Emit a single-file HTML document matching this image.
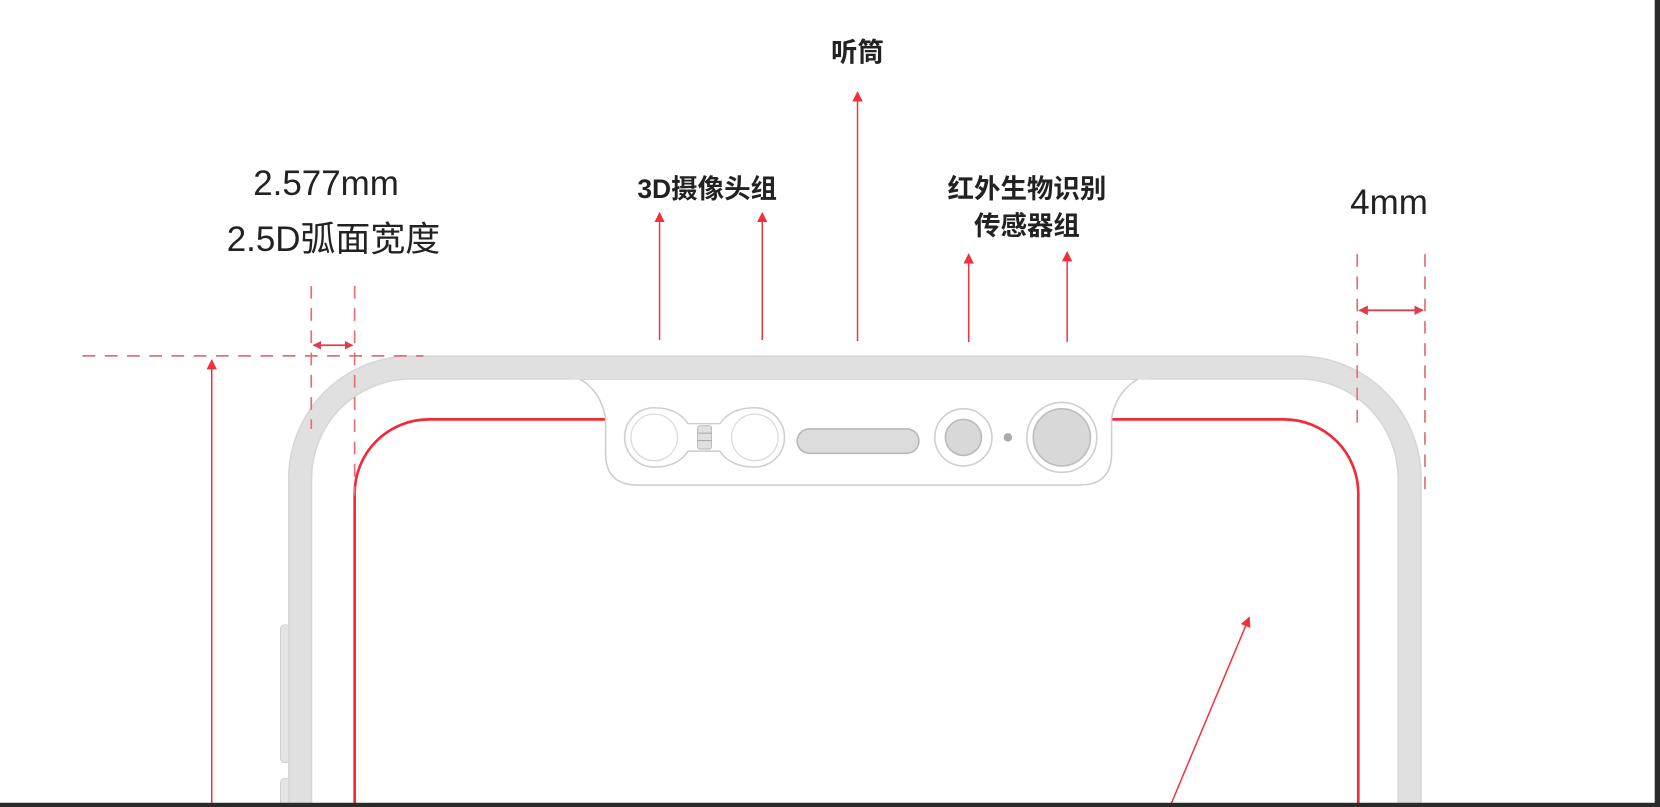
<!DOCTYPE html>
<html><head><meta charset="utf-8"><style>
html,body{margin:0;padding:0;background:#fff;width:1660px;height:807px;overflow:hidden}
svg{display:block}
text{font-family:"Liberation Sans","Noto Sans CJK SC",sans-serif;fill:#222}
</style></head><body>
<svg width="1660" height="807" viewBox="0 0 1568 762" preserveAspectRatio="none" xmlns="http://www.w3.org/2000/svg">
<defs>
<marker id="ah" viewBox="0 0 10 10" refX="9" refY="5" markerWidth="7" markerHeight="7" orient="auto-start-reverse"><path d="M0 0 L10 5 L0 10 z" fill="#f0303a"/></marker>
<marker id="ad" viewBox="0 0 10 10" refX="9" refY="5" markerWidth="5" markerHeight="5" orient="auto-start-reverse"><path d="M0 0 L10 5 L0 10 z" fill="#d9404a"/></marker>
</defs>
<rect width="1568" height="762" fill="#fff"/>
<rect x="265" y="590" width="9" height="130" rx="4" fill="#e4e4e4" stroke="#d0d0d0"/>
<rect x="265" y="735" width="9" height="30" rx="4" fill="#e4e4e4" stroke="#d0d0d0"/>
<path d="M283.5 770 L283.5 452 A105 105 0 0 1 388.5 347 L1226.5 347 A105 105 0 0 1 1331.5 452 L1331.5 770" fill="none" stroke="#d6d6d6" stroke-width="23"/>
<path d="M283.5 770 L283.5 452 A105 105 0 0 1 388.5 347 L1226.5 347 A105 105 0 0 1 1331.5 452 L1331.5 770" fill="none" stroke="#e0e0e0" stroke-width="20"/>
<path d="M572 396 L405 396 A70 70 0 0 0 335 466 L335 770" fill="none" stroke="#f22a36" stroke-width="2.5"/>
<path d="M1050 396 L1213 396 A70 70 0 0 1 1283 466 L1283 770" fill="none" stroke="#f22a36" stroke-width="2.5"/>
<path d="M548 358 Q568 370 572 395 L572 428 Q572 458 602 458 L1020 458 Q1050 458 1050 428 L1050 395 Q1054 370 1075 358 Z" fill="#fff" stroke="#cfcfcf" stroke-width="1.5"/>
<rect x="540" y="352" width="545" height="6" fill="#e0e0e0"/>
<path d="M618 385 Q640 385 650 400 L680 400 Q690 385 713 385 A28 28 0 0 1 713 441 Q690 441 680 426 L650 426 Q640 441 618 441 A28 28 0 0 1 618 385 Z" fill="#fff" stroke="#cfcfcf" stroke-width="1.5"/>
<circle cx="618" cy="413" r="22" fill="#fff" stroke="#dadada" stroke-width="1.2"/>
<circle cx="713" cy="413" r="22" fill="#fff" stroke="#dadada" stroke-width="1.2"/>
<rect x="659" y="402" width="13" height="22" rx="2" fill="#e0e0e0" stroke="#bbb"/>
<line x1="659" y1="409" x2="672" y2="409" stroke="#aaa"/><line x1="659" y1="416" x2="672" y2="416" stroke="#aaa"/>
<rect x="753" y="405" width="115" height="23" rx="11.5" fill="#dcdcdc" stroke="#b8b8b8" stroke-width="1.5"/>
<circle cx="910" cy="413" r="27" fill="#fff" stroke="#cfcfcf" stroke-width="1.5"/>
<circle cx="910" cy="413" r="17" fill="#d8d8d8" stroke="#b8b8b8" stroke-width="1.5"/>
<circle cx="952" cy="413" r="4" fill="#aaa"/>
<circle cx="1003" cy="413" r="33" fill="#fff" stroke="#cfcfcf" stroke-width="1.5"/>
<circle cx="1003" cy="413" r="27" fill="#d8d8d8" stroke="#bdbdbd" stroke-width="1.5"/>
<g stroke="#f0303a" stroke-width="1.4" fill="none">
<line x1="623" y1="321" x2="623" y2="201" marker-end="url(#ah)"/>
<line x1="720" y1="321" x2="720" y2="201" marker-end="url(#ah)"/>
<line x1="810" y1="322" x2="810" y2="87" marker-end="url(#ah)"/>
<line x1="915" y1="323" x2="915" y2="240" marker-end="url(#ah)"/>
<line x1="1008" y1="323" x2="1008" y2="238" marker-end="url(#ah)"/>
<line x1="200" y1="762" x2="200" y2="340" marker-end="url(#ah)"/>
<line x1="1105" y1="762" x2="1180" y2="583" marker-end="url(#ah)"/>
</g>
<g stroke="#e0707a" stroke-width="1.6" stroke-dasharray="12 9" fill="none">
<line x1="78" y1="336" x2="400" y2="336"/>
<line x1="294" y1="270" x2="294" y2="405"/>
<line x1="335" y1="270" x2="335" y2="468"/>
<line x1="1282" y1="240" x2="1282" y2="405"/>
<line x1="1346" y1="240" x2="1346" y2="462"/>
</g>
<line x1="296" y1="326" x2="333" y2="326" stroke="#d9404a" stroke-width="1.6" marker-start="url(#ad)" marker-end="url(#ad)"/>
<line x1="1284" y1="293" x2="1344" y2="293" stroke="#d9404a" stroke-width="1.8" marker-start="url(#ad)" marker-end="url(#ad)"/>
<text x="308" y="184" font-size="33" text-anchor="middle">2.577mm</text>
<text x="315" y="237" font-size="33" text-anchor="middle">2.5D弧面宽度</text>
<text x="810" y="58" font-size="25" font-weight="bold" text-anchor="middle">听筒</text>
<text x="668" y="187" font-size="25" font-weight="bold" text-anchor="middle">3D摄像头组</text>
<text x="970" y="187" font-size="25" font-weight="bold" text-anchor="middle">红外生物识别</text>
<text x="970" y="222" font-size="25" font-weight="bold" text-anchor="middle">传感器组</text>
<text x="1312" y="202" font-size="33" text-anchor="middle">4mm</text>
<rect x="0" y="758" width="1568" height="4" fill="#2a2a2a"/>
<rect x="1563" y="0" width="5" height="762" fill="#2a2a2a"/>
</svg>
</body></html>
